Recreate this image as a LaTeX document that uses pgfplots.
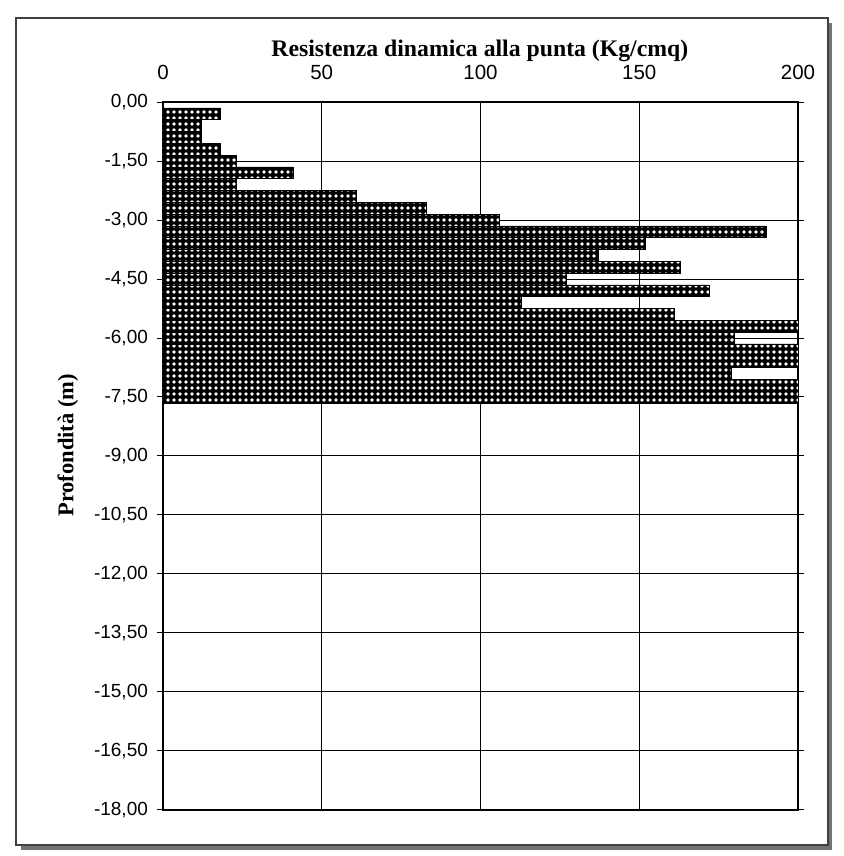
\documentclass[border=0pt]{standalone}
\usepackage{pgfplots}
\pgfplotsset{compat=1.18}
\usepackage{fontspec}
\setmainfont{Liberation Serif}
\setsansfont{Liberation Sans}
\usetikzlibrary{patterns,patterns.meta}

\pgfplotstableread{
val depth
18 -0.3
12 -0.6
12 -0.9
18 -1.2
23 -1.5
41 -1.8
23 -2.1
61 -2.4
83 -2.7
106 -3.0
190 -3.3
152 -3.6
137 -3.9
163 -4.2
127 -4.5
172 -4.8
113 -5.1
161 -5.4
200 -5.7
180 -6.0
200 -6.3
200 -6.6
179 -6.9
200 -7.2
200 -7.5
}\datatable

\begin{document}
\begin{tikzpicture}
\begin{axis}[
  scale only axis,
  width=254pt, height=283.2pt,
  xmin=0, xmax=200, ymin=-18, ymax=0,
  xtick={0,50,100,150,200},
  ytick={0,-1.5,-3,-4.5,-6,-7.5,-9,-10.5,-12,-13.5,-15,-16.5,-18},
  xticklabel pos=upper,
  tick align=outside,
  major tick length=2.5pt,
  tick style={black, line width=0.4pt},
  xtick style={draw=none},
  grid=major,
  major grid style={black, line width=0.4pt},
  axis line style={black, line width=0.5pt},
  /pgf/number format/assume math mode=true,
  yticklabel={\pgfmathprintnumber[fixed, fixed zerofill, precision=2, use comma]{\tick}},
  ticklabel style={font=\sffamily\fontsize{7.6}{9}\selectfont, black},
  xticklabel style={yshift=3pt, font=\sffamily\fontsize{8.2}{9}\selectfont},
  clip=false,
  xbar,
  bar width=0.3,
]
\addplot[draw=black, line width=0.3pt, fill=black,
    postaction={pattern={Dots[distance=2.4pt, radius=0.75pt]}, pattern color=white}]
  table[x=val, y=depth] {\datatable};

% frame and shadow
\fill[black!55] (rel axis cs:-0.224,-0.0494) rectangle (rel axis cs:1.054,-0.057);
\fill[black!55] (rel axis cs:1.0472,-0.057) rectangle (rel axis cs:1.054,1.112);
\draw[black!75, line width=0.6pt] (rel axis cs:-0.2315,-0.0494) rectangle (rel axis cs:1.0472,1.1186);
\path[use as bounding box] (rel axis cs:-0.2567,-0.065) rectangle (rel axis cs:1.0724,1.1441);

\node[font=\bfseries\fontsize{9.5}{11}\selectfont] at (rel axis cs:0.499,1.072) {Resistenza dinamica alla punta (Kg/cmq)};
\node[font=\bfseries\fontsize{9}{11}\selectfont, rotate=90] at (rel axis cs:-0.15,0.515) {Profondità (m)};
\end{axis}
\end{tikzpicture}
\end{document}
